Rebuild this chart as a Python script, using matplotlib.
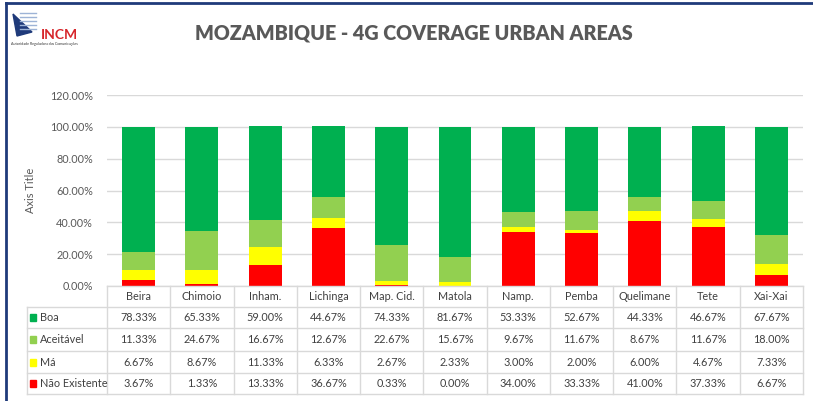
import matplotlib
matplotlib.use('Agg')
import matplotlib.pyplot as plt
from matplotlib.lines import Line2D
from matplotlib.patches import Rectangle, Polygon

plt.rcParams['font.family'] = ['Lato', 'DejaVu Sans']

cities = ['Beira', 'Chimoio', 'Inham.', 'Lichinga', 'Map. Cid.', 'Matola',
          'Namp.', 'Pemba', 'Quelimane', 'Tete', 'Xai-Xai']
boa = [78.33, 65.33, 59.00, 44.67, 74.33, 81.67, 53.33, 52.67, 44.33, 46.67, 67.67]
aceitavel = [11.33, 24.67, 16.67, 12.67, 22.67, 15.67, 9.67, 11.67, 8.67, 11.67, 18.00]
ma = [6.67, 8.67, 11.33, 6.33, 2.67, 2.33, 3.00, 2.00, 6.00, 4.67, 7.33]
nao_existente = [3.67, 1.33, 13.33, 36.67, 0.33, 0.00, 34.00, 33.33, 41.00, 37.33, 6.67]

# bottom -> top stacking order
series = [('Não Existente', nao_existente, '#FF0000'),
          ('Má', ma, '#FFFF00'),
          ('Aceitável', aceitavel, '#92D050'),
          ('Boa', boa, '#00B050')]
# table order
table_rows = [series[3], series[2], series[1], series[0]]

W, H = 813, 401
fig = plt.figure(figsize=(W / 100, H / 100), dpi=100)

x0, x1 = 107, 803
y_top, y_bot = 95, 286
ax = fig.add_axes([x0 / W, 1 - y_bot / H, (x1 - x0) / W, (y_bot - y_top) / H])

x = list(range(len(cities)))
bottom = [0] * len(cities)
for name, vals, col in series:
    ax.bar(x, vals, 0.52, bottom=bottom, color=col, zorder=3)
    bottom = [b + v for b, v in zip(bottom, vals)]

ax.set_xlim(-0.5, len(cities) - 0.5)
ax.set_ylim(0, 120)
ax.set_yticks(range(0, 121, 20))
ax.set_yticklabels(['%.2f%%' % v for v in range(0, 121, 20)], fontsize=7.8, color='#595959')
ax.set_xticks([])
ax.grid(axis='y', color='#d9d9d9', lw=1, zorder=0)
ax.tick_params(axis='y', length=0, pad=10)
for s in ax.spines.values():
    s.set_visible(False)

fig.text(30 / W, 1 - 190 / H, 'Axis Title', rotation=90, ha='center', va='center',
         fontsize=8, color='#595959')

# data table
gc = '#d9d9d9'
row_y = [286, 307, 328, 351, 373, 394]
col_w = (x1 - x0) / len(cities)
tl = 27

def hline(xa, xb, y):
    fig.add_artist(Line2D([xa / W, xb / W], [1 - y / H, 1 - y / H], color=gc, lw=1))

def vline(xx, ya, yb):
    fig.add_artist(Line2D([xx / W, xx / W], [1 - ya / H, 1 - yb / H], color=gc, lw=1))

hline(x0, x1, row_y[0])
for y in row_y[1:]:
    hline(tl, x1, y)
vline(tl, row_y[1], row_y[-1])
for i in range(len(cities) + 1):
    vline(x0 + i * col_w, row_y[0], row_y[-1])

for i, c in enumerate(cities):
    cx = x0 + (i + 0.5) * col_w
    fig.text(cx / W, 1 - (row_y[0] + row_y[1]) / 2 / H, c, ha='center', va='center',
             fontsize=7.8, color='#404040')

for r, (name, vals, col) in enumerate(table_rows):
    cy = (row_y[r + 1] + row_y[r + 2]) / 2
    fig.add_artist(Rectangle(((tl + 3) / W, 1 - (cy + 3.5) / H), 6 / W, 7 / H,
                             transform=fig.transFigure, color=col))
    fig.text((tl + 13) / W, 1 - cy / H, name, ha='left', va='center',
             fontsize=7.8, color='#404040')
    for i, v in enumerate(vals):
        cx = x0 + (i + 0.5) * col_w
        fig.text(cx / W, 1 - cy / H, '%.2f%%' % v, ha='center', va='center',
                 fontsize=7.8, color='#404040')

# title
fig.text(414 / W, 1 - 33 / H, 'MOZAMBIQUE - 4G COVERAGE URBAN AREAS', ha='center',
         va='center', fontsize=14.2, fontweight='heavy', color='#595959')

# frame lines
fig.add_artist(Line2D([6 / W, 1], [1 - 3 / H, 1 - 3 / H], color='#1F3A7A', lw=2))
fig.add_artist(Line2D([6 / W, 6 / W], [0, 1 - 3 / H], color='#1F3A7A', lw=2))

# logo
fig.add_artist(Polygon([[13 / W, 1 - 14 / H], [32 / W, 1 - 32 / H], [17 / W, 1 - 36 / H]],
                       closed=True, transform=fig.transFigure, color='#1F3A7A'))
for k in range(5):
    yy = 1 - (13 + k * 4) / H
    fig.add_artist(Line2D([20 / W, 36 / W], [yy, yy], color='#9DB3D6', lw=1))
fig.text(41 / W, 1 - 35 / H, 'INCM', ha='left', va='center', fontsize=10,
         fontweight='bold', color='#D7262B')
fig.text(11 / W, 1 - 44 / H, 'Autoridade Reguladora das Comunicações', ha='left',
         va='center', fontsize=2.6, color='#333333')

fig.savefig('out.png', dpi=100, facecolor='white')
